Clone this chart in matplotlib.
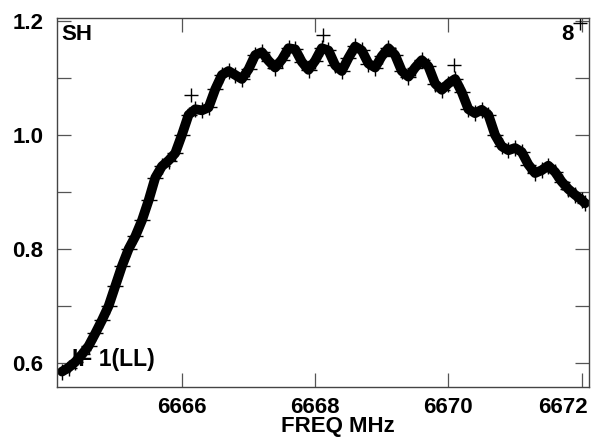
import numpy as np
import matplotlib
matplotlib.use('Agg')
import matplotlib.pyplot as plt
import matplotlib.transforms as mtrans
from matplotlib.ticker import MultipleLocator

plt.rcParams['font.family'] = ['Liberation Sans', 'DejaVu Sans']
plt.rcParams['font.weight'] = 'bold'

# bandpass (MHz, amplitude)
freq = [6664.20, 6664.30, 6664.40, 6664.50, 6664.60, 6664.70, 6664.80, 6664.90,
        6665.00, 6665.10, 6665.20, 6665.30, 6665.40, 6665.50, 6665.60, 6665.70,
        6665.80, 6665.90, 6666.00, 6666.10, 6666.20, 6666.30, 6666.40, 6666.50,
        6666.60, 6666.70, 6666.80, 6666.90, 6667.00, 6667.10, 6667.20, 6667.30,
        6667.40, 6667.50, 6667.60, 6667.70, 6667.80, 6667.90, 6668.00, 6668.10,
        6668.20, 6668.30, 6668.40, 6668.50, 6668.60, 6668.70, 6668.80, 6668.90,
        6669.00, 6669.10, 6669.20, 6669.30, 6669.40, 6669.50, 6669.60, 6669.70,
        6669.80, 6669.90, 6670.00, 6670.10, 6670.20, 6670.30, 6670.40, 6670.50,
        6670.60, 6670.70, 6670.80, 6670.90, 6671.00, 6671.10, 6671.20, 6671.30,
        6671.40, 6671.50, 6671.60, 6671.70, 6671.80, 6671.90, 6672.00, 6672.05]
amp = [0.585, 0.592, 0.602, 0.615, 0.630, 0.652, 0.675, 0.700,
       0.735, 0.770, 0.800, 0.822, 0.850, 0.885, 0.925, 0.945,
       0.955, 0.968, 1.000, 1.035, 1.045, 1.043, 1.048, 1.080,
       1.105, 1.112, 1.105, 1.098, 1.115, 1.140, 1.145, 1.130,
       1.118, 1.132, 1.152, 1.150, 1.128, 1.114, 1.130, 1.152,
       1.148, 1.122, 1.112, 1.135, 1.155, 1.148, 1.125, 1.118,
       1.138, 1.152, 1.140, 1.112, 1.102, 1.118, 1.131, 1.120,
       1.090, 1.079, 1.090, 1.098, 1.075, 1.045, 1.038, 1.044,
       1.035, 1.000, 0.980, 0.973, 0.977, 0.970, 0.948, 0.933,
       0.938, 0.946, 0.935, 0.918, 0.905, 0.895, 0.886, 0.880]

# isolated high channels
spike_freq = [6666.13, 6668.12, 6670.08, 6671.98]
spike_amp = [1.070, 1.175, 1.122, 1.197]

xticks = [6666, 6668, 6670, 6672]

fig = plt.figure(figsize=(5.91, 4.40), dpi=100)
ax = fig.add_axes([0.097, 0.1205, 0.8996, 0.8395])

ax.plot(freq, amp, 'k-', lw=7, solid_capstyle='round', solid_joinstyle='round')
ax.plot(freq, amp, 'k+', ms=11, mew=1.0)
ax.plot(spike_freq, spike_amp, 'k+', ms=10, mew=1.0)

ax.set_xlim(6664.13, 6672.11)
ax.set_ylim(0.558, 1.2056)
ax.set_xticks(xticks)
ax.set_xticklabels([str(t) for t in xticks])
ax.yaxis.set_major_locator(MultipleLocator(0.2))
ax.yaxis.set_minor_locator(MultipleLocator(0.1))
ax.yaxis.set_major_formatter(plt.FormatStrFormatter('%.1f'))
ax.tick_params(which='both', direction='in', length=10, width=0.9, color='#555555',
               top=True, right=True, labelsize=16)
ax.tick_params(axis='y', pad=10)
ax.tick_params(axis='x', pad=7)
for s in ax.spines.values():
    s.set_linewidth(1.0)
    s.set_color('#444444')

# last x label pushed left so it stays inside the picture
last = ax.get_xticklabels()[-1]
last.set_horizontalalignment('right')
last.set_transform(last.get_transform() +
                   mtrans.ScaledTranslation(4.5 / 72, 0, fig.dpi_scale_trans))

ax.set_xlabel('FREQ MHz', fontsize=16, fontweight='bold')
ax.xaxis.set_label_coords(0.528, -0.078)

ax.text(0.008, 0.984, 'SH', transform=ax.transAxes, fontsize=16, fontweight='bold', va='top')
ax.text(0.972, 0.984, '8', transform=ax.transAxes, fontsize=16, fontweight='bold',
        va='top', ha='right')
ax.text(0.027, 0.058, 'IF 1(LL)', transform=ax.transAxes, fontsize=16.5, fontweight='bold',
        va='baseline')

plt.savefig('out.png', dpi=100)
